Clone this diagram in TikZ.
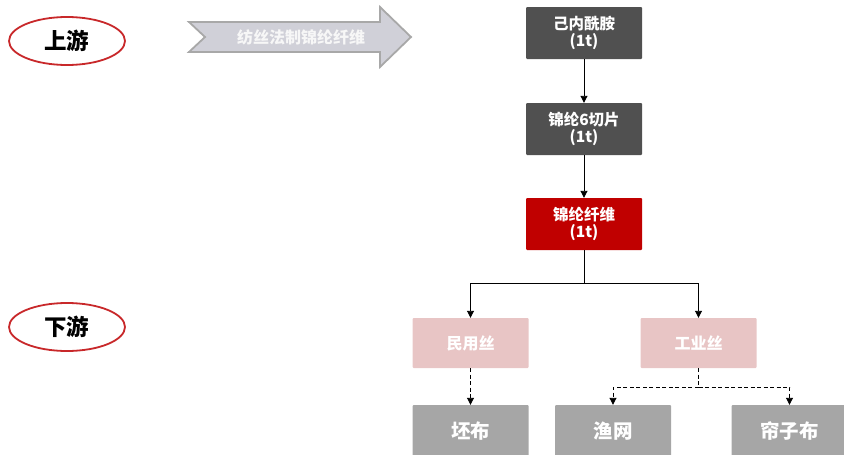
\documentclass[tikz,border=0pt]{standalone}
\usepackage{fontspec}
\newfontfamily\cjk{Noto Sans CJK SC}
\usetikzlibrary{arrows.meta,shapes.geometric}
\definecolor{darkbox}{HTML}{505050}
\definecolor{redbox}{HTML}{C00000}
\definecolor{pinkbox}{HTML}{E8C5C5}
\definecolor{greybox}{HTML}{A6A6A6}
\definecolor{ellred}{HTML}{C8282A}
\definecolor{arrfill}{HTML}{D0D0D8}
\definecolor{arrdraw}{HTML}{A8A8A8}
\tikzset{
  box/.style={rectangle, rounded corners=1pt, minimum width=116pt, minimum height=52pt, text=white, font=\cjk\bfseries\fontsize{15.5}{17}\selectfont, align=center, inner sep=0pt},
  topbox/.style={box, fill=darkbox},
  redfill/.style={box, fill=redbox},
  pinkfill/.style={box, fill=pinkbox, minimum height=50pt, font=\cjk\bfseries\fontsize{16}{18}\selectfont},
  greyfill/.style={box, fill=greybox, minimum height=52pt, font=\cjk\bfseries\fontsize{19.5}{21}\selectfont},
  stage/.style={ellipse, draw=ellred, line width=1.8pt, minimum width=116pt, minimum height=48pt, inner sep=0pt, font=\cjk\bfseries\fontsize{22.5}{24}\selectfont},
  conn/.style={line width=0.9pt, -{Triangle[length=7pt,width=7pt]}},
  dconn/.style={conn, dash pattern=on 4pt off 2.5pt},
}
\begin{document}
\begin{tikzpicture}[x=1pt,y=-1pt]
\useasboundingbox (0,0) rectangle (844,455);
\node[stage] (up) at (67,41) {上游};
\node[stage] (down) at (67,327) {下游};
% big arrow
\draw[fill=arrfill, draw=arrdraw, line width=1.8pt]
  (189,22) -- (380,22) -- (380,7) -- (411,37) -- (380,67) -- (380,52) -- (189,52) -- (205,37) -- cycle;
\node[font=\cjk\bfseries\fontsize{16}{18}\selectfont, text=white!94!gray] (arrtxt) at (301,37) {纺丝法制锦纶纤维};
% boxes
\node[topbox] (a) at (584,33) {己内酰胺\\(1t)};
\node[topbox] (b) at (584,129) {锦纶6切片\\(1t)};
\node[redfill] (c) at (584,224) {锦纶纤维\\(1t)};
\node[pinkfill] (m) at (470.5,343) {民用丝};
\node[pinkfill] (g) at (698.5,343) {工业丝};
\node[greyfill] (p) at (470.5,431) {坯布};
\node[greyfill] (y) at (613,431) {渔网};
\node[greyfill] (l) at (789.5,431) {帘子布};
% connectors
\draw[conn] (a) -- (b);
\draw[conn] (b) -- (c);
\coordinate (j1) at (584,283);
\draw[line width=0.9pt] (c) -- (j1);
\draw[conn] (j1) -| (m.north);
\draw[conn] (j1) -| (g.north);
\draw[dconn] (m) -- (p);
\coordinate (j2) at (698.5,387);
\draw[line width=0.9pt, dash pattern=on 4pt off 2.5pt] (g) -- (j2);
\draw[dconn] (j2) -| (y.north);
\draw[dconn] (j2) -| (l.north);
\end{tikzpicture}
\end{document}
